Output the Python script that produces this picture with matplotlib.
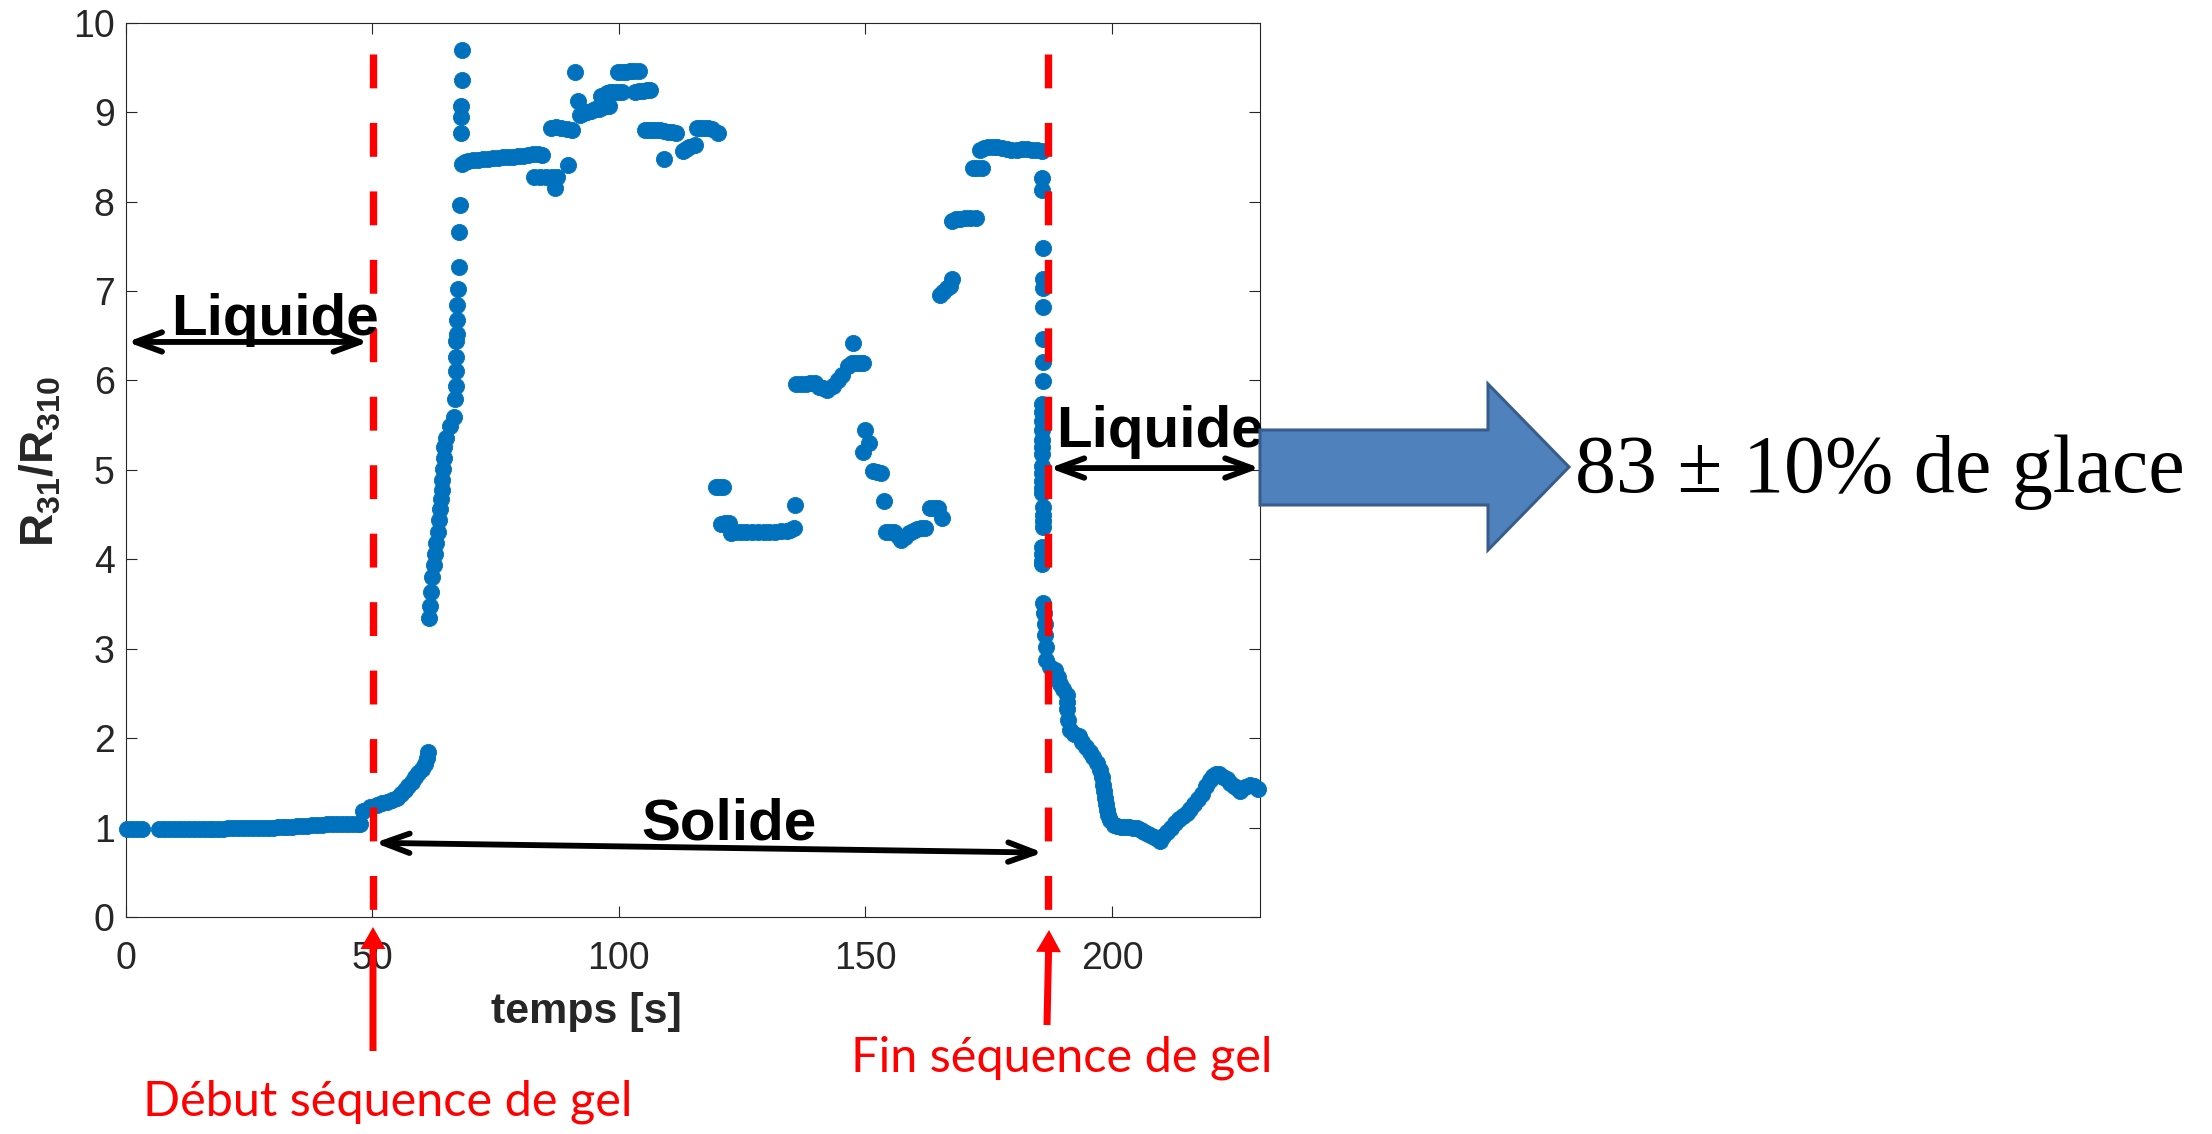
import matplotlib
matplotlib.use('Agg')
import matplotlib.pyplot as plt
from matplotlib.patches import Polygon, FancyArrow
from matplotlib.transforms import IdentityTransform

plt.rcParams['font.family'] = ['Liberation Sans', 'DejaVu Sans']
plt.rcParams['mathtext.fontset'] = 'custom'
plt.rcParams['mathtext.rm'] = 'Liberation Sans'
plt.rcParams['mathtext.bf'] = 'Liberation Sans:bold'

# (temps [s], R31/R310)
liquide_avant = [(0.2, 0.98), (1.2, 0.98), (2.2, 0.98), (3.3, 0.98),
                 (6.8, 0.98), (7.8, 0.98), (8.8, 0.98), (9.8, 0.98), (10.8, 0.98), (11.8, 0.98),
                 (12.8, 0.98), (13.8, 0.98), (14.8, 0.98), (15.8, 0.98), (16.8, 0.98), (17.8, 0.98),
                 (18.8, 0.98), (19.8, 0.98), (20.8, 0.99), (21.8, 0.99), (22.8, 0.99), (23.8, 0.99),
                 (24.8, 0.99), (25.8, 0.99), (26.8, 0.99), (27.8, 1.00), (28.8, 1.00), (29.8, 1.00),
                 (30.8, 1.01), (31.8, 1.01), (32.8, 1.01), (33.8, 1.01), (34.8, 1.02), (35.8, 1.02),
                 (36.8, 1.02), (37.8, 1.03), (38.8, 1.03), (39.8, 1.03), (40.8, 1.04), (41.8, 1.04),
                 (42.8, 1.04), (43.8, 1.04), (44.8, 1.04), (45.8, 1.04), (46.8, 1.04), (47.6, 1.04)]

debut_gel = [(48.2, 1.19), (49.5, 1.23), (50.9, 1.25), (52.0, 1.27), (52.9, 1.29), (54.0, 1.31),
             (55.0, 1.33), (55.8, 1.37), (56.6, 1.42), (57.3, 1.46), (58.0, 1.51), (58.7, 1.56),
             (59.3, 1.61), (60.0, 1.66), (60.7, 1.71), (61.0, 1.78), (61.3, 1.84)]

montee = [(61.6, 3.34), (61.8, 3.48), (62.0, 3.63), (62.2, 3.80), (62.5, 3.94), (62.7, 4.06),
          (63.0, 4.18), (63.3, 4.31), (63.5, 4.44), (63.7, 4.56), (63.9, 4.67), (64.1, 4.77),
          (64.2, 4.89), (64.35, 5.01), (64.45, 5.13), (64.5, 5.26), (64.9, 5.36), (65.8, 5.49),
          (66.6, 5.59), (66.8, 5.79), (66.9, 5.94), (66.9, 6.11), (66.9, 6.26), (66.9, 6.44),
          (67.1, 6.52), (67.1, 6.68), (67.2, 6.84), (67.4, 7.02), (67.6, 7.27), (67.6, 7.66),
          (67.8, 7.96), (68.0, 8.77), (68.0, 8.94), (68.0, 9.07), (68.1, 9.36), (68.2, 9.70)]

plateau = [(68.2, 8.42), (68.8, 8.44), (69.5, 8.45), (70.5, 8.46), (71.5, 8.47), (72.5, 8.48),
           (73.5, 8.48), (74.5, 8.49), (75.5, 8.49), (76.5, 8.50), (77.5, 8.50), (78.5, 8.50),
           (79.5, 8.51), (80.5, 8.51), (81.5, 8.52), (82.5, 8.53), (83.5, 8.53), (84.5, 8.52)]

palier_haut = [(82.8, 8.28), (84.0, 8.28), (85.2, 8.28), (86.4, 8.28), (87.4, 8.28), (87.0, 8.15),
               (89.6, 8.41), (86.3, 8.82), (87.3, 8.83), (88.3, 8.82), (89.4, 8.81), (90.5, 8.80),
               (91.2, 9.45), (91.7, 9.12),
               (92.1, 8.97), (92.9, 8.99), (93.6, 9.00), (94.4, 9.01), (95.2, 9.03), (96.0, 9.04),
               (96.7, 9.06), (97.9, 9.07),
               (96.4, 9.18), (97.5, 9.21), (98.3, 9.22), (99.1, 9.22), (99.9, 9.22), (100.6, 9.22),
               (99.8, 9.45), (100.6, 9.45), (101.4, 9.45), (102.2, 9.46), (103.0, 9.46), (104.1, 9.46),
               (103.3, 9.23), (104.1, 9.24), (104.9, 9.24), (105.7, 9.25), (106.3, 9.25),
               (105.3, 8.80), (106.1, 8.80), (106.8, 8.80), (107.6, 8.80), (108.4, 8.80), (109.2, 8.79),
               (110.0, 8.78), (110.8, 8.78), (111.5, 8.77), (109.2, 8.48),
               (113.1, 8.56), (113.7, 8.59), (114.2, 8.61), (115.4, 8.63),
               (115.8, 8.82), (116.5, 8.82), (117.3, 8.82), (118.1, 8.82), (118.9, 8.81), (120.0, 8.77)]

palier_bas = [(119.7, 4.81), (120.4, 4.81), (121.2, 4.81),
              (120.8, 4.40), (121.6, 4.41), (122.4, 4.41),
              (122.8, 4.29), (123.7, 4.30), (124.7, 4.30), (125.8, 4.31), (127.0, 4.31), (128.2, 4.31),
              (129.4, 4.31), (130.5, 4.31), (131.7, 4.31), (132.9, 4.32), (134.0, 4.32), (134.8, 4.33),
              (135.6, 4.35), (135.7, 4.61),
              (136.0, 5.96), (136.9, 5.96), (137.9, 5.96), (138.8, 5.97), (139.8, 5.97), (140.6, 5.93),
              (141.4, 5.91), (142.2, 5.89), (143.4, 5.94), (144.4, 6.00), (145.3, 6.06), (146.4, 6.16),
              (147.2, 6.19), (148.0, 6.20), (148.8, 6.20), (149.6, 6.20), (147.4, 6.42),
              (149.9, 5.45), (150.7, 5.30), (149.6, 5.20),
              (151.5, 4.99), (152.3, 4.98), (153.1, 4.97), (153.8, 4.65),
              (154.2, 4.31), (155.0, 4.31), (155.8, 4.31), (156.6, 4.26), (157.3, 4.21), (158.1, 4.25),
              (158.9, 4.29), (159.6, 4.32), (160.4, 4.34), (161.2, 4.35), (162.0, 4.35),
              (163.1, 4.57), (163.9, 4.57), (164.7, 4.57), (165.5, 4.46)]

remontee = [(165.1, 6.96), (165.8, 6.99), (166.5, 7.03), (167.1, 7.06), (167.5, 7.13),
            (167.5, 7.78), (168.3, 7.80), (169.2, 7.81), (170.2, 7.82), (171.2, 7.82), (172.5, 7.82),
            (171.9, 8.38), (172.7, 8.38), (173.6, 8.38),
            (173.2, 8.58), (174.0, 8.60), (174.9, 8.61), (175.8, 8.61), (176.6, 8.61), (177.6, 8.60),
            (178.6, 8.59), (179.6, 8.58), (180.7, 8.58), (181.7, 8.59), (182.7, 8.59), (183.7, 8.58),
            (184.7, 8.58), (185.7, 8.57)]

chute = [(185.7, 8.26), (185.7, 8.13), (185.9, 7.48), (185.9, 7.13), (185.9, 7.03), (185.9, 6.82),
         (185.9, 6.46), (186.1, 6.21), (186.1, 5.99), (185.7, 5.74), (185.7, 5.65), (185.7, 5.55),
         (185.7, 5.45), (185.7, 5.33), (185.7, 5.25), (185.7, 5.18), (185.7, 5.04), (185.7, 4.96),
         (185.7, 4.88), (185.7, 4.80), (185.7, 4.74), (186.1, 4.59), (186.1, 4.50), (186.1, 4.43),
         (186.1, 4.36), (185.7, 4.14), (185.7, 4.06), (185.7, 3.98), (185.7, 3.95)]

liquide_apres = [(186.1, 3.51), (186.2, 3.40), (186.4, 3.28), (186.5, 3.15), (186.7, 3.02), (186.7, 2.87),
                 (187.5, 2.80), (188.4, 2.76), (189.0, 2.68), (189.4, 2.61), (190.1, 2.55), (190.8, 2.48),
                 (190.8, 2.40), (190.8, 2.33), (191.1, 2.20), (191.5, 2.09), (192.3, 2.05), (193.2, 2.02),
                 (194.0, 1.96), (194.8, 1.90), (195.5, 1.85), (196.2, 1.79), (196.9, 1.72), (197.5, 1.64),
                 (198.0, 1.56), (198.2, 1.48), (198.4, 1.41), (198.6, 1.33), (198.8, 1.26), (199.0, 1.20),
                 (199.2, 1.14), (199.6, 1.08), (200.3, 1.03), (201.1, 1.02), (201.9, 1.01), (202.7, 1.01),
                 (203.4, 1.01), (204.2, 1.00), (205.0, 0.99), (205.8, 0.97), (206.5, 0.95), (207.3, 0.93),
                 (208.1, 0.91), (208.9, 0.88), (209.7, 0.85), (210.4, 0.91), (211.2, 0.95), (212.0, 0.99),
                 (212.8, 1.05), (213.5, 1.10), (214.3, 1.13), (215.1, 1.16), (215.9, 1.21), (216.6, 1.26),
                 (217.4, 1.32), (218.2, 1.37), (219.0, 1.47), (219.8, 1.53), (220.5, 1.58), (221.1, 1.60),
                 (221.7, 1.60), (222.5, 1.57), (223.3, 1.54), (224.0, 1.50), (224.8, 1.47), (225.4, 1.44),
                 (226.0, 1.41), (227.0, 1.45), (227.9, 1.48), (228.7, 1.46), (229.5, 1.43)]

debut_sequence = 50.1
fin_sequence = 187.1
x_ticks = [0, 50, 100, 150, 200]
y_ticks = list(range(0, 11))

W, H = 2212, 1134
fig = plt.figure(figsize=(W / 100, H / 100), dpi=100)
ax = fig.add_axes([125.7 / W, 1 - 917 / H, (1260 - 125.7) / W, (917 - 22.7) / H])

points = liquide_avant + debut_gel + montee + plateau + palier_haut + palier_bas + remontee + chute + liquide_apres
t = [p[0] for p in points]
r = [p[1] for p in points]
ax.scatter(t, r, s=135, c='#0072BD', edgecolors='#0072BD', linewidths=0.6, zorder=3, clip_on=False)

for xv in [debut_sequence, fin_sequence]:
    ax.plot([xv, xv], [9.65, 0], color='red', lw=5.3, ls=(0, (4.6, 4.7)),
            dash_capstyle='butt', zorder=4, clip_on=False)

ax.set_xlim(0, 230)
ax.set_ylim(0, 10)
ax.set_xticks(x_ticks)
ax.set_yticks(y_ticks)
ax.tick_params(direction='in', length=8, width=0.8, top=True, right=True,
               labelsize=27, colors='#262626')
ax.tick_params(axis='x', pad=17)
ax.tick_params(axis='y', pad=8)
for key, spine in ax.spines.items():
    spine.set_linewidth(0.8)
    spine.set_color('#262626')

ax.set_xlabel('temps [s]', fontsize=31, fontweight='bold', color='#262626')
ax.xaxis.set_label_coords(0.406, -0.084)
ax.set_ylabel(r'$\mathbf{R_{31}/R_{310}}$', fontsize=33, color='#262626')
ax.yaxis.set_label_coords(-0.055, 0.509)

# phase annotations
arrow_kw = dict(arrowstyle='<->,head_length=0.95,head_width=0.35', lw=4.2, color='black',
                shrinkA=0, shrinkB=0, mutation_scale=20)
ax.annotate('', xy=(0.3, 6.43), xytext=(49.2, 6.43), arrowprops=arrow_kw, annotation_clip=False, zorder=5)
ax.annotate('', xy=(187.3, 5.02), xytext=(230, 5.02), arrowprops=arrow_kw, annotation_clip=False, zorder=5)
ax.annotate('', xy=(50.5, 0.83), xytext=(186.0, 0.72), arrowprops=arrow_kw, annotation_clip=False, zorder=5)
ax.text(30.2, 6.51, 'Liquide', ha='center', va='baseline', fontsize=42, fontweight='bold', zorder=6, clip_on=False)
ax.text(209.8, 5.26, 'Liquide', ha='center', va='baseline', fontsize=42, fontweight='bold', zorder=6, clip_on=False)
ax.text(122.3, 0.87, 'Solide', ha='center', va='baseline', fontsize=42, fontweight='bold', zorder=6, clip_on=False)

# red arrows under the axis (figure pixels)
fig.add_artist(FancyArrow(373, H - 1051, 0, 1051 - 927, width=7, head_width=25, head_length=22,
                          length_includes_head=True, color='red', lw=0, transform=IdentityTransform()))
fig.add_artist(FancyArrow(1047, H - 1025, 2, 1025 - 930, width=7, head_width=25, head_length=22,
                          length_includes_head=True, color='red', lw=0, transform=IdentityTransform()))
fig.text(388 / W, (H - 1115) / H, 'Début séquence de gel', ha='center', va='baseline',
         color='red', fontsize=35, family='Lato')
fig.text(1061.5 / W, (H - 1071) / H, 'Fin séquence de gel', ha='center', va='baseline',
         color='red', fontsize=35, family='Lato')

# block arrow and result
bloc = [(1260, 430), (1488, 430), (1488, 384), (1569, 467), (1488, 550), (1488, 505), (1260, 505)]
fig.add_artist(Polygon([(x, H - y) for x, y in bloc], closed=True, facecolor='#4F81BD',
                       edgecolor='#385D8A', lw=2.2, zorder=10, transform=IdentityTransform()))
fig.text(1575 / W, (H - 492) / H, '83 ± 10% de glace', ha='left', va='baseline',
         fontsize=59, family='Liberation Serif', color='black')

fig.savefig('out.png', dpi=100)
